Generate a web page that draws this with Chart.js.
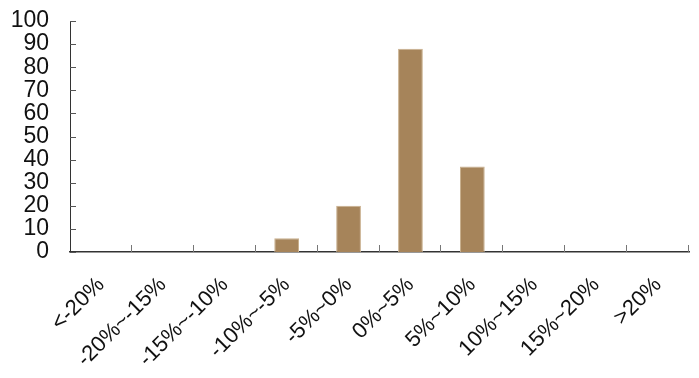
<!DOCTYPE html>
<html>
<head>
<meta charset="utf-8">
<script src="https://cdn.jsdelivr.net/npm/chart.js@4/dist/chart.umd.min.js"></script>
<style>
  html, body { margin: 0; padding: 0; background: #fff; }
  #wrap { width: 699px; height: 378px; }
</style>
</head>
<body>
<div id="wrap"><canvas id="histChart"></canvas></div>
<script>
const categories = ['<-20%', '-20%~-15%', '-15%~-10%', '-10%~-5%', '-5%~0%', '0%~5%', '5%~10%', '10%~15%', '15%~20%', '>20%'];
const counts = [0, 0, 0, 6, 20, 88, 37, 0, 0, 0];
const yMin = 0;
const yMax = 100;
const yStep = 10;

const fontFamily = "'Liberation Sans', Arial, sans-serif";

// inside tick marks on both axes
const innerTicks = {
    id: 'innerTicks',
    afterDraw(chart) {
        const ctx = chart.ctx;
        const x = chart.scales.x;
        const y = chart.scales.y;
        const area = chart.chartArea;
        ctx.save();
        ctx.lineWidth = 1;

        ctx.strokeStyle = '#555';
        for (let v = yMin; v <= yMax; v += yStep) {
            const py = Math.round(y.getPixelForValue(v)) + 0.5;
            ctx.beginPath();
            ctx.moveTo(area.left, py);
            ctx.lineTo(area.left + 6, py);
            ctx.stroke();
        }

        ctx.strokeStyle = '#777';
        for (let i = 1; i <= categories.length; i++) {
            let px;
            if (i === categories.length) {
                px = area.right;
            } else {
                px = (x.getPixelForValue(i - 1) + x.getPixelForValue(i)) / 2;
            }
            px = Math.round(px) - 0.5;
            ctx.beginPath();
            ctx.moveTo(px, area.bottom);
            ctx.lineTo(px, area.bottom - 7);
            ctx.stroke();
        }
        ctx.restore();
    }
};

const ctx = document.getElementById('histChart').getContext('2d');
new Chart(ctx, {
    type: 'bar',
    data: {
        labels: categories,
        datasets: [{
            data: counts,
            backgroundColor: '#a6845a',
            borderColor: '#c9b08e',
            borderWidth: 1,
            borderSkipped: 'bottom',
            barPercentage: 0.4,
            categoryPercentage: 1.0
        }]
    },
    options: {
        responsive: true,
        maintainAspectRatio: false,
        animation: false,
        layout: { padding: { top: 21, right: 10, left: 0, bottom: 0 } },
        plugins: {
            legend: { display: false },
            tooltip: { enabled: false }
        },
        scales: {
            x: {
                grid: { display: false, drawTicks: false },
                border: { display: true, color: '#333', width: 1.5 },
                ticks: {
                    color: '#111',
                    font: { family: fontFamily, size: 22 },
                    maxRotation: 45,
                    minRotation: 45,
                    autoSkip: false,
                    padding: 20
                },
                afterFit(scale) {
                    scale.height = 126;
                    scale.paddingLeft = 0;
                    scale.paddingRight = 0;
                }
            },
            y: {
                min: yMin,
                max: yMax,
                grid: { display: false, drawTicks: false },
                border: { display: true, color: '#333', width: 1 },
                ticks: {
                    stepSize: yStep,
                    autoSkip: false,
                    color: '#111',
                    font: { family: fontFamily, size: 23 },
                    padding: 21
                },
                afterFit(scale) {
                    scale.width = 70;
                    scale.paddingTop = 0;
                    scale.paddingBottom = 0;
                }
            }
        }
    },
    plugins: [innerTicks]
});
</script>
</body>
</html>
